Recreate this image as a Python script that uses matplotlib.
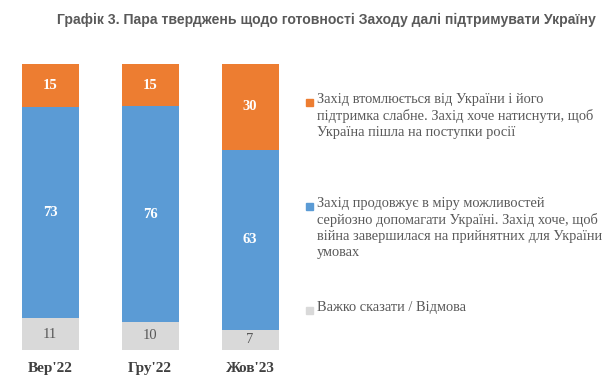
import matplotlib
matplotlib.use("Agg")
import matplotlib.pyplot as plt
from matplotlib.patches import Rectangle

categories = ["Вер'22", "Гру'22", "Жов'23"]
hard_to_say = [11, 10, 7]
continue_support = [73, 76, 63]
tired = [15, 15, 30]

legend_labels = [
    "Захід втомлюється від України і його\nпідтримка слабне. Захід хоче натиснути, щоб\nУкраїна пішла на поступки росії",
    "Захід продовжує в міру можливостей\nсерйозно допомагати Україні. Захід хоче, щоб\nвійна завершилася на прийнятних для України\nумовах",
    "Важко сказати / Відмова",
]
title = "Графік 3. Пара тверджень щодо готовності Заходу далі підтримувати Україну"

c_orange = "#ED7D31"
c_blue = "#5B9BD5"
c_grey = "#D9D9D9"

W, H = 610, 389
fig = plt.figure(figsize=(W / 100, H / 100), dpi=100)
ax = fig.add_axes([0, (H - 350) / H, 300 / W, 286 / H])
ax.set_xlim(-0.5, 2.5)
ax.set_ylim(0, 100)
ax.axis("off")

# 100% stacked: normalise each column to its total
totals = [a + b + c for a, b, c in zip(hard_to_say, continue_support, tired)]
g = [100 * v / t for v, t in zip(hard_to_say, totals)]
b = [100 * v / t for v, t in zip(continue_support, totals)]
o = [100 * v / t for v, t in zip(tired, totals)]

x = list(range(len(categories)))
bw = 0.57
serif = "Liberation Serif"
ax.bar(x, g, bw, color=c_grey)
ax.bar(x, b, bw, bottom=g, color=c_blue)
bottom3 = [p + q for p, q in zip(g, b)]
ax.bar(x, o, bw, bottom=bottom3, color=c_orange)

for i in x:
    ax.text(i, g[i] / 2, str(hard_to_say[i]), ha="center", va="center",
            family=serif, fontsize=10.5, color="#595959")
    ax.text(i, g[i] + b[i] / 2, str(continue_support[i]),
            ha="center", va="center", family=serif, fontsize=10.5, color="white", weight="bold")
    ax.text(i, bottom3[i] + o[i] / 2, str(tired[i]), ha="center", va="center",
            family=serif, fontsize=10.5, color="white", weight="bold")
    ax.text(i, -6.3, categories[i], ha="center", va="center", family=serif,
            fontsize=11, weight="bold", color="#404040")

fig.text(326 / W, 1 - 20 / H, title, ha="center", va="center",
         family="Liberation Sans", fontsize=10.1, weight="bold", color="#595959")

legend_colors = [c_orange, c_blue, c_grey]
legend_y = [102, 206, 310]
for lab, col, yy in zip(legend_labels, legend_colors, legend_y):
    fig.patches.append(Rectangle((306 / W, 1 - (yy + 3.5) / H), 7 / W, 7 / H,
                                 transform=fig.transFigure, color=col))
    fig.text(317 / W, 1 - (yy - 9) / H, lab, ha="left", va="top", family=serif,
             fontsize=10.4, color="#595959", linespacing=1.28)

fig.savefig("out.png", dpi=100)
